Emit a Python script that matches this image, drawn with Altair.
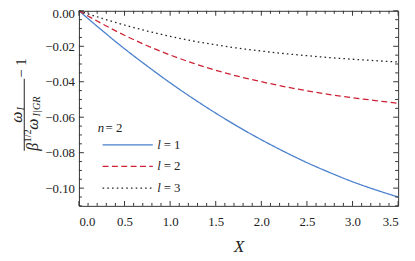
import altair as alt
import pandas as pd

# ---- data ----
X = [0.0, 0.25, 0.5, 0.75, 1.0, 1.25, 1.5, 1.75, 2.0, 2.25, 2.5, 2.75, 3.0, 3.25, 3.5]
L1 = [0.0, -0.0109, -0.0214, -0.0312, -0.0406, -0.0494, -0.0577, -0.0655, -0.0727,
      -0.0794, -0.0856, -0.0912, -0.0964, -0.1009, -0.1050]
L2 = [0.0, -0.0072, -0.0138, -0.0197, -0.0249, -0.0295, -0.0335, -0.0370, -0.0400,
      -0.0427, -0.0451, -0.0472, -0.0490, -0.0506, -0.0521]
L3 = [0.0, -0.0042, -0.0080, -0.0114, -0.0144, -0.0170, -0.0192, -0.0211, -0.0227,
      -0.0241, -0.0253, -0.0264, -0.0273, -0.0281, -0.0289]
L_VALUES = ["1", "2", "3"]
N_VALUE = 2
COLORS = ["#4A80CC", "#CC2233", "#222222"]
DASHES = [[1, 0], [6, 3.5], [1.6, 3.2]]
X_MAJOR = [0.0, 0.5, 1.0, 1.5, 2.0, 2.5, 3.0, 3.5]
Y_MAJOR = [0.0, -0.02, -0.04, -0.06, -0.08, -0.10]
X_MINOR = [round(i * 0.1, 1) for i in range(36) if i % 5 != 0]
Y_MINOR = [round(-i * 0.005, 3) for i in range(23) if i % 4 != 0]

W, H = 324, 198
FONT = "Liberation Serif"
TXT = "#222222"
FRAME = "#333333"

rows = []
for lv, ys in zip(L_VALUES, [L1, L2, L3]):
    for xv, yv in zip(X, ys):
        rows.append({"X": xv, "v": yv, "l": lv})
df = pd.DataFrame(rows)

xs = alt.Scale(domain=[0, 3.5], nice=False, zero=False)
ysc = alt.Scale(domain=[-0.11, 0], nice=False, zero=False)

AX = alt.Axis(values=X_MAJOR, format=".1f", title="X", ticks=False, domain=False,
              grid=False, labelPadding=9.5, labelFont=FONT, labelFontSize=13, labelColor=TXT,
              titleFont=FONT, titleFontSize=17, titleFontStyle="italic", titleFontWeight="normal",
              titleColor=TXT, titlePadding=11)
AY = alt.Axis(values=Y_MAJOR, format=".2f", title=None, ticks=False, domain=False,
              grid=False, labelPadding=4.5, labelFont=FONT, labelFontSize=13, labelColor=TXT,
              labelOffset={"condition": {"test": "datum.value === 0", "value": 3}, "value": 0})

lines = alt.Chart(df).mark_line(strokeWidth=1.3, interpolate="monotone").encode(
    x=alt.X("X:Q", scale=xs, axis=AX),
    y=alt.Y("v:Q", scale=ysc, axis=AY),
    color=alt.Color("l:N", scale=alt.Scale(domain=L_VALUES, range=COLORS), legend=None),
    strokeDash=alt.StrokeDash("l:N", scale=alt.Scale(domain=L_VALUES, range=DASHES), legend=None),
)

def yticks(vals, length, right=False):
    x0 = W if right else 0
    x1 = W - length if right else length
    return alt.Chart(pd.DataFrame({"v": vals})).mark_rule(color=FRAME, strokeWidth=1).encode(
        y=alt.Y("v:Q", scale=ysc, axis=AY), x=alt.value(x0), x2=alt.value(x1))

def xticks(vals, length, top=False):
    y0 = 0 if top else H
    y1 = length if top else H - length
    return alt.Chart(pd.DataFrame({"X": vals})).mark_rule(color=FRAME, strokeWidth=1).encode(
        x=alt.X("X:Q", scale=xs, axis=AX), y=alt.value(y0), y2=alt.value(y1))

ticks = [yticks(Y_MAJOR, 5), yticks(Y_MINOR, 3), yticks(Y_MAJOR, 5, True), yticks(Y_MINOR, 3, True),
         xticks(X_MAJOR, 5), xticks(X_MINOR, 3), xticks(X_MAJOR, 5, True), xticks(X_MINOR, 3, True)]

one = pd.DataFrame({"k": [0]})

def txt(s, x, y, size=13, italic=False, angle=0, align="left"):
    return alt.Chart(one).mark_text(text=s, font=FONT, fontSize=size,
                                    fontStyle="italic" if italic else "normal",
                                    angle=angle, align=align, baseline="middle", color=TXT).encode(
        x=alt.value(x), y=alt.value(y))

# ---- legend ----
legend = [txt("n", 19, 118.5, italic=True), txt(f"= {N_VALUE}", 27, 118.5)]
for i, (lv, col, dash) in enumerate(zip(L_VALUES, COLORS, DASHES)):
    ly = 136 + 22 * i
    legend.append(alt.Chart(one).mark_rule(color=col, strokeDash=dash, strokeWidth=1.3).encode(
        x=alt.value(24), x2=alt.value(75), y=alt.value(ly)))
    legend.append(txt("l", 79.5, ly, italic=True))
    legend.append(txt(f"= {lv}", 86, ly))

# ---- y title: omega_I / (beta^{1/2} omega_{I|GR}) - 1, rotated ----
ytitle = [
    txt("ω", -62.5, 108, 16, True, 270, "center"), txt("I", -59, 99.5, 10.5, True, 270, "center"),
    alt.Chart(one).mark_rule(color=TXT, strokeWidth=1).encode(
        x=alt.value(-55.5), y=alt.value(69), y2=alt.value(142)),
    txt("β", -46.5, 138, 16, True, 270, "center"), txt("1/2", -51.5, 127, 10.5, False, 270, "center"),
    txt("ω", -46.5, 115, 16, True, 270, "center"), txt("I|GR", -42.5, 97, 10.5, True, 270, "center"),
    txt("− 1", -58.5, 58, 15, False, 270, "center"),
]

chart = alt.layer(lines, *ticks, *legend, *ytitle).properties(
    width=W, height=H,
    autosize=alt.AutoSizeParams(type="none"),
    padding={"left": 72, "top": 1, "right": 9, "bottom": 48},
    background="white",
).configure_view(stroke=FRAME, strokeWidth=1)

chart.save("out.html", embed_options={"renderer": "svg", "actions": False})
